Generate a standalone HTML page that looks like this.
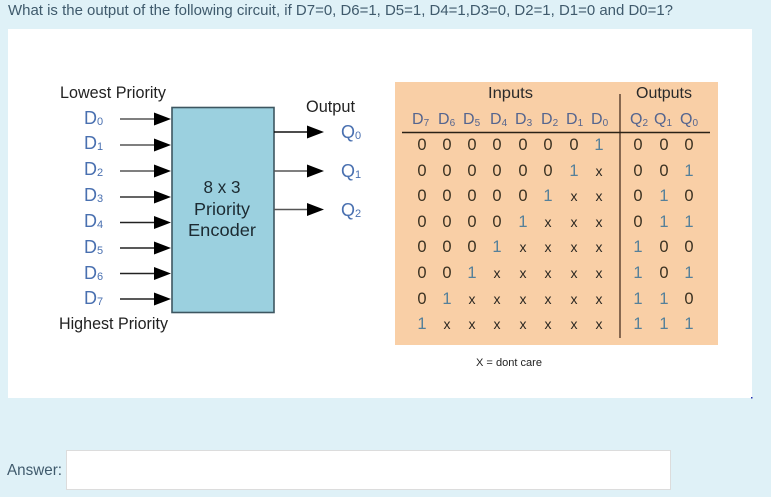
<!DOCTYPE html>
<html><head><meta charset="utf-8"><style>
html,body{margin:0;padding:0;background:#dff1f7;width:771px;height:497px;overflow:hidden}
svg{display:block;font-family:"Liberation Sans",sans-serif}
.x{font-size:14px;fill:#2c2820}
.o{fill:#55809a}
</style></head><body>
<svg width="771" height="497" viewBox="0 0 771 497" xmlns="http://www.w3.org/2000/svg">
<defs>
<g id="ah"><path d="M-17,-6.5 L0,0 L-17,6.5 Z" fill="#000"/></g>
<filter id="b" x="0" y="0" width="100%" height="100%"><feGaussianBlur stdDeviation="0.3"/></filter>
</defs>
<rect width="771" height="497" fill="#dff1f7"/>
<text x="8" y="15" font-size="15" fill="#3f5a6c" textLength="665" lengthAdjust="spacingAndGlyphs">What is the output of the following circuit, if D7=0, D6=1, D5=1, D4=1,D3=0, D2=1, D1=0 and D0=1?</text>
<rect x="8" y="29" width="744" height="369" fill="#fff"/>
<rect x="751" y="397" width="1.5" height="1.5" fill="#2030b0"/>

<g filter="url(#b)">
<!-- left labels -->
<text x="60" y="98" font-size="16.5" fill="#222" textLength="106" lengthAdjust="spacingAndGlyphs">Lowest Priority</text>
<text x="59" y="329" font-size="16.5" fill="#222" textLength="109" lengthAdjust="spacingAndGlyphs">Highest Priority</text>
<text x="306" y="112" font-size="16.5" fill="#222" textLength="49" lengthAdjust="spacingAndGlyphs">Output</text>

<g font-size="18" fill="#4a70b0">
<text x="84" y="124">D<tspan font-size="11" dy="1">0</tspan></text>
<text x="84" y="149">D<tspan font-size="11" dy="1">1</tspan></text>
<text x="84" y="175">D<tspan font-size="11" dy="1">2</tspan></text>
<text x="84" y="201">D<tspan font-size="11" dy="1">3</tspan></text>
<text x="84" y="227">D<tspan font-size="11" dy="1">4</tspan></text>
<text x="84" y="253">D<tspan font-size="11" dy="1">5</tspan></text>
<text x="84" y="279">D<tspan font-size="11" dy="1">6</tspan></text>
<text x="84" y="304">D<tspan font-size="11" dy="1">7</tspan></text>
<text x="341" y="138">Q<tspan font-size="11" dy="1">0</tspan></text>
<text x="341" y="177">Q<tspan font-size="11" dy="1">1</tspan></text>
<text x="341" y="216">Q<tspan font-size="11" dy="1">2</tspan></text>
</g>

<!-- box -->
<rect x="172" y="107.5" width="102" height="205" fill="#9bd0df" stroke="#3e5660" stroke-width="1.6"/>
<g font-size="17.5" fill="#1c2a30" text-anchor="middle">
<text x="222" y="193" textLength="37" lengthAdjust="spacingAndGlyphs">8 x 3</text>
<text x="222" y="215" textLength="56" lengthAdjust="spacingAndGlyphs">Priority</text>
<text x="222" y="236" textLength="68" lengthAdjust="spacingAndGlyphs">Encoder</text>
</g>

<!-- arrows -->
<g stroke="#222" stroke-width="1.5">
<line x1="120" y1="119" x2="160" y2="119" stroke="#555"/>
<line x1="120" y1="145" x2="160" y2="145" stroke="#555"/>
<line x1="120" y1="171" x2="160" y2="171" stroke="#555"/>
<line x1="120" y1="197" x2="160" y2="197" stroke="#333"/>
<line x1="120" y1="222.5" x2="160" y2="222.5"/>
<line x1="120" y1="248" x2="160" y2="248"/>
<line x1="120" y1="273.5" x2="160" y2="273.5"/>
<line x1="120" y1="299" x2="160" y2="299"/>
<line x1="274" y1="132" x2="312" y2="132" stroke="#111"/>
<line x1="274" y1="171" x2="312" y2="171" stroke="#555"/>
<line x1="274" y1="209.5" x2="312" y2="209.5" stroke="#555"/>
</g>
<use href="#ah" x="171" y="119"/>
<use href="#ah" x="171" y="145"/>
<use href="#ah" x="171" y="171"/>
<use href="#ah" x="171" y="197"/>
<use href="#ah" x="171" y="222.5"/>
<use href="#ah" x="171" y="248"/>
<use href="#ah" x="171" y="273.5"/>
<use href="#ah" x="171" y="299"/>
<use href="#ah" x="324" y="132"/>
<use href="#ah" x="324" y="171"/>
<use href="#ah" x="324" y="209.5"/>

<!-- table -->
<rect x="395" y="82" width="323" height="263" fill="#f9cfa6"/>
<line x1="620" y1="94" x2="620" y2="338" stroke="#6a4e3a" stroke-width="1.6"/>
<line x1="402" y1="132.5" x2="710" y2="132.5" stroke="#2a2018" stroke-width="1.4"/>
<text x="488" y="98" font-size="16" fill="#2a2a2a" textLength="45" lengthAdjust="spacingAndGlyphs">Inputs</text>
<text x="636" y="98" font-size="16" fill="#2a2a2a" textLength="56" lengthAdjust="spacingAndGlyphs">Outputs</text>

<g font-size="16" fill="#55658f">
<text x="412" y="124">D<tspan font-size="10" dy="2">7</tspan></text>
<text x="438" y="124">D<tspan font-size="10" dy="2">6</tspan></text>
<text x="463" y="124">D<tspan font-size="10" dy="2">5</tspan></text>
<text x="490" y="124">D<tspan font-size="10" dy="2">4</tspan></text>
<text x="515" y="124">D<tspan font-size="10" dy="2">3</tspan></text>
<text x="541" y="124">D<tspan font-size="10" dy="2">2</tspan></text>
<text x="566" y="124">D<tspan font-size="10" dy="2">1</tspan></text>
<text x="591" y="124">D<tspan font-size="10" dy="2">0</tspan></text>
<text x="630" y="124">Q<tspan font-size="10" dy="2">2</tspan></text>
<text x="654" y="124">Q<tspan font-size="10" dy="2">1</tspan></text>
<text x="680" y="124">Q<tspan font-size="10" dy="2">0</tspan></text>
</g>

<g font-size="16.5" text-anchor="middle" fill="#3a3020">
<text y="150"><tspan x="422">0</tspan><tspan x="447">0</tspan><tspan x="472">0</tspan><tspan x="497">0</tspan><tspan x="523">0</tspan><tspan x="548">0</tspan><tspan x="574">0</tspan><tspan x="599" class="o">1</tspan><tspan x="638">0</tspan><tspan x="664">0</tspan><tspan x="689">0</tspan></text>
<text y="176"><tspan x="422">0</tspan><tspan x="447">0</tspan><tspan x="472">0</tspan><tspan x="497">0</tspan><tspan x="523">0</tspan><tspan x="548">0</tspan><tspan x="574" class="o">1</tspan><tspan x="599" class="x">x</tspan><tspan x="638">0</tspan><tspan x="664">0</tspan><tspan x="689" class="o">1</tspan></text>
<text y="201"><tspan x="422">0</tspan><tspan x="447">0</tspan><tspan x="472">0</tspan><tspan x="497">0</tspan><tspan x="523">0</tspan><tspan x="548" class="o">1</tspan><tspan x="574" class="x">x</tspan><tspan x="599" class="x">x</tspan><tspan x="638">0</tspan><tspan x="664" class="o">1</tspan><tspan x="689">0</tspan></text>
<text y="227"><tspan x="422">0</tspan><tspan x="447">0</tspan><tspan x="472">0</tspan><tspan x="497">0</tspan><tspan x="523" class="o">1</tspan><tspan x="548" class="x">x</tspan><tspan x="574" class="x">x</tspan><tspan x="599" class="x">x</tspan><tspan x="638">0</tspan><tspan x="664" class="o">1</tspan><tspan x="689" class="o">1</tspan></text>
<text y="252"><tspan x="422">0</tspan><tspan x="447">0</tspan><tspan x="472">0</tspan><tspan x="497" class="o">1</tspan><tspan x="523" class="x">x</tspan><tspan x="548" class="x">x</tspan><tspan x="574" class="x">x</tspan><tspan x="599" class="x">x</tspan><tspan x="638" class="o">1</tspan><tspan x="664">0</tspan><tspan x="689">0</tspan></text>
<text y="278"><tspan x="422">0</tspan><tspan x="447">0</tspan><tspan x="472" class="o">1</tspan><tspan x="497" class="x">x</tspan><tspan x="523" class="x">x</tspan><tspan x="548" class="x">x</tspan><tspan x="574" class="x">x</tspan><tspan x="599" class="x">x</tspan><tspan x="638" class="o">1</tspan><tspan x="664">0</tspan><tspan x="689" class="o">1</tspan></text>
<text y="304"><tspan x="422">0</tspan><tspan x="447" class="o">1</tspan><tspan x="472" class="x">x</tspan><tspan x="497" class="x">x</tspan><tspan x="523" class="x">x</tspan><tspan x="548" class="x">x</tspan><tspan x="574" class="x">x</tspan><tspan x="599" class="x">x</tspan><tspan x="638" class="o">1</tspan><tspan x="664" class="o">1</tspan><tspan x="689">0</tspan></text>
<text y="329"><tspan x="422" class="o">1</tspan><tspan x="447" class="x">x</tspan><tspan x="472" class="x">x</tspan><tspan x="497" class="x">x</tspan><tspan x="523" class="x">x</tspan><tspan x="548" class="x">x</tspan><tspan x="574" class="x">x</tspan><tspan x="599" class="x">x</tspan><tspan x="638" class="o">1</tspan><tspan x="664" class="o">1</tspan><tspan x="689" class="o">1</tspan></text>
</g>

<text x="476" y="366" font-size="11" fill="#222" textLength="66" lengthAdjust="spacingAndGlyphs">X = dont care</text>
</g>

<!-- answer -->
<text x="7" y="475" font-size="16" fill="#3f5a6c" textLength="55" lengthAdjust="spacingAndGlyphs">Answer:</text>
<rect x="66.5" y="450.5" width="604" height="39" fill="#fff" stroke="#dcdcdc" stroke-width="1"/>
</svg>
</body></html>
